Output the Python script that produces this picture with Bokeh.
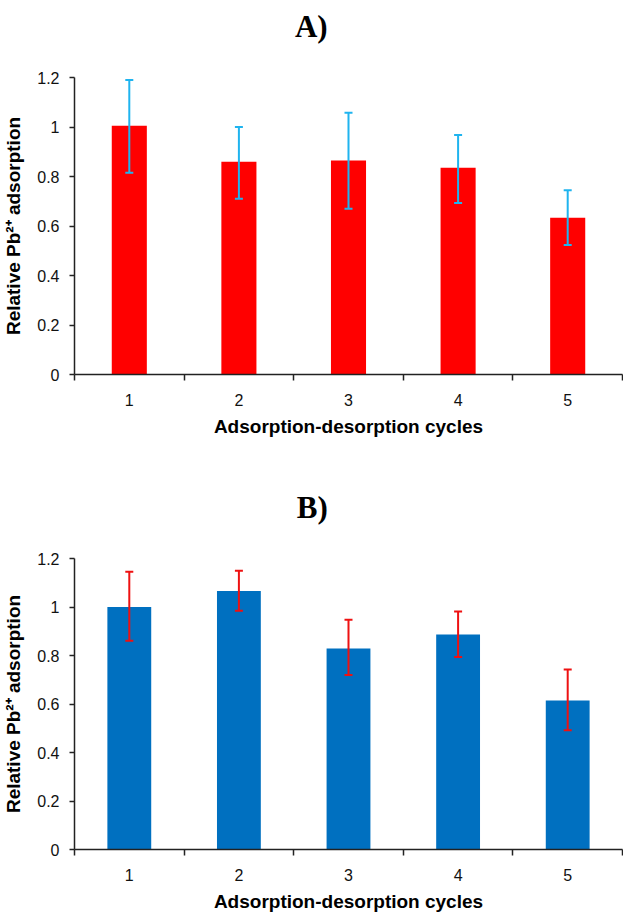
from bokeh.plotting import figure
from bokeh.layouts import column
from bokeh.models import ColumnDataSource, Range1d, FixedTicker, Whisker, TeeHead
from bokeh.core.properties import value
from bokeh.embed import file_html
from bokeh.resources import INLINE

# ---- data ----
cycles = [1, 2, 3, 4, 5]
cycle_labels = ["1", "2", "3", "4", "5"]
y_ticks = [0, 0.2, 0.4, 0.6, 0.8, 1.0, 1.2]
y_tick_labels = ["0", "0.2", "0.4", "0.6", "0.8", "1", "1.2"]

a_mean = [1.005, 0.86, 0.865, 0.835, 0.633]
a_upper = [1.19, 1.0, 1.058, 0.968, 0.744]
a_lower = [0.815, 0.71, 0.67, 0.693, 0.523]

b_mean = [1.0, 1.066, 0.829, 0.887, 0.614]
b_upper = [1.145, 1.15, 0.947, 0.981, 0.742]
b_lower = [0.861, 0.985, 0.72, 0.794, 0.492]

title_a = "A)"
title_b = "B)"
x_label = "Adsorption-desorption cycles"
y_label = "Relative Pb\u00b2\u207a adsorption"

W = 623
TITLE_H = 50


def make_title(text, cx):
    # frames of a column are aligned, so share the panels' x range
    t = figure(width=W, height=TITLE_H, output_backend="svg", toolbar_location=None,
               x_range=Range1d(0.5, 5.5), y_range=Range1d(0, TITLE_H),
               x_axis_type=None, y_axis_type=None,
               min_border_left=69, min_border_right=1,
               min_border_top=0, min_border_bottom=0)
    t.grid.visible = False
    t.outline_line_color = None
    t.text(x=[cx], y=[TITLE_H - 26], text=[text], text_align="center",
           text_baseline="middle", text_font=value("Liberation Serif"),
           text_font_style="bold", text_font_size="31px", text_color="black")
    return t


def make_panel(mean, upper, lower, bar_color, err_color, bar_w, height, bottom_border):
    src = ColumnDataSource(dict(x=cycles, top=mean, upper=upper, lower=lower))
    p = figure(width=W, height=height, output_backend="svg", toolbar_location=None,
               x_range=Range1d(0.5, 5.5), y_range=Range1d(0, 1.2),
               min_border_left=69, min_border_right=1, min_border_top=77 - TITLE_H,
               min_border_bottom=bottom_border)
    p.outline_line_color = None
    p.xgrid.grid_line_color = None
    p.ygrid.grid_line_color = None
    p.background_fill_color = "white"
    p.border_fill_color = "white"

    p.vbar(x="x", top="top", width=bar_w, source=src, fill_color=bar_color, line_color=None)
    w = Whisker(base="x", upper="upper", lower="lower", source=src,
                line_color=err_color, line_width=2, level="overlay",
                upper_head=TeeHead(size=8, line_color=err_color, line_width=2),
                lower_head=TeeHead(size=8, line_color=err_color, line_width=2))
    p.add_layout(w)

    # x axis
    xa = p.xaxis[0]
    xa.ticker = FixedTicker(ticks=cycles, minor_ticks=[0.5, 1.5, 2.5, 3.5, 4.5, 5.5])
    xa.major_label_overrides = {c: l for c, l in zip(cycles, cycle_labels)}
    xa.major_tick_out = 0
    xa.major_tick_in = 0
    xa.minor_tick_out = 6
    xa.minor_tick_in = 0
    xa.minor_tick_line_color = "#222222"
    xa.minor_tick_line_width = 1.5
    xa.axis_line_color = "#222222"
    xa.axis_line_width = 1.5
    xa.major_label_text_font = "Liberation Sans"
    xa.major_label_text_font_size = "16px"
    xa.major_label_text_color = "#111111"
    xa.major_label_standoff = 13
    xa.axis_label = x_label
    xa.axis_label_text_font = "Liberation Sans"
    xa.axis_label_text_font_style = "bold"
    xa.axis_label_text_font_size = "19px"
    xa.axis_label_text_color = "black"
    xa.axis_label_standoff = 7

    # y axis
    ya = p.yaxis[0]
    ya.ticker = FixedTicker(ticks=y_ticks)
    ya.major_label_overrides = {t: l for t, l in zip(y_ticks, y_tick_labels)}
    ya.major_tick_out = 5
    ya.major_tick_in = 0
    ya.minor_tick_out = 0
    ya.minor_tick_in = 0
    ya.major_tick_line_color = "#222222"
    ya.major_tick_line_width = 1.5
    ya.axis_line_color = "#222222"
    ya.axis_line_width = 1.5
    ya.major_label_text_font = "Liberation Sans"
    ya.major_label_text_font_size = "16px"
    ya.major_label_text_color = "#111111"
    ya.major_label_standoff = 10
    ya.axis_label = y_label
    ya.axis_label_text_font = "Liberation Sans"
    ya.axis_label_text_font_style = "bold"
    ya.axis_label_text_font_size = "19px"
    ya.axis_label_text_color = "black"
    ya.axis_label_standoff = 10
    return p


tA = make_title(title_a, 2.66)
pA = make_panel(a_mean, a_upper, a_lower, "#ff0000", "#1fb4ef", 0.32, 431, 107)
tB = make_title(title_b, 2.67)
pB = make_panel(b_mean, b_upper, b_lower, "#0070c0", "#ee1111", 0.40, 383, 61)

layout = column(tA, pA, tB, pB, spacing=0)
open("out.html", "w").write(file_html(layout, INLINE))
